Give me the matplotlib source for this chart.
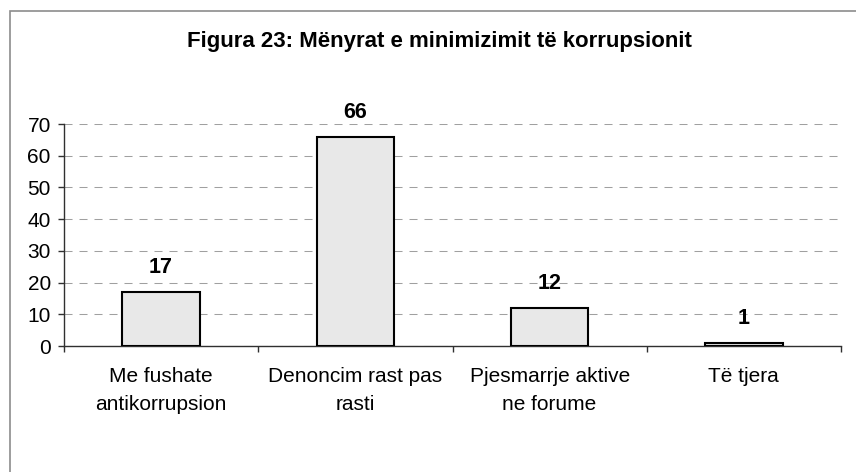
import numpy as np
import matplotlib.pyplot as plt
from matplotlib.patches import Rectangle

plt.rcParams['font.family'] = ['Liberation Sans', 'DejaVu Sans']

categories = ['Me fushate\nantikorrupsion', 'Denoncim rast pas\nrasti',
              'Pjesmarrje aktive\nne forume', 'Të tjera']
values = [17, 66, 12, 1]
yticks = [0, 10, 20, 30, 40, 50, 60, 70]
title = 'Figura 23: Mënyrat e minimizimit të korrupsionit'

fig = plt.figure(figsize=(8.56, 4.72), dpi=100, facecolor='w')
ax = fig.add_axes([64 / 856, 1 - 346 / 472, (841 - 64) / 856, (346 - 124) / 472])

# outer chart frame (clipped on right and bottom like the source)
fig.patches.append(Rectangle((9.5 / 856, -0.1), 1.2, 1 - 10.5 / 472 + 0.1,
                             transform=fig.transFigure, fill=False,
                             edgecolor='#8c8c8c', lw=1.2))

x = np.arange(len(values))
ax.bar(x, values, width=0.4, color='#e8e8e8', edgecolor='black', lw=1.5, zorder=3)
for xi, v in zip(x, values):
    ax.annotate(str(v), (xi, v), xytext=(0, 13.5), textcoords='offset points',
                ha='center', va='baseline', fontsize=15.5, fontweight='bold')

ax.set_xlim(-0.5, len(values) - 0.5)
ax.set_ylim(0, 70)
ax.set_yticks(yticks)
ax.set_yticklabels([str(t) for t in yticks], fontsize=15)
ax.yaxis.grid(True, color='#a0a0a0', ls=(0, (7.7, 6.7)), lw=0.75)
ax.set_axisbelow(True)

# category ticks at the boundaries, labels in the middle
ax.set_xticks(np.arange(len(values) + 1) - 0.5)
ax.set_xticklabels([])
ax.set_xticks(x, minor=True)
ax.set_xticklabels(categories, minor=True, fontsize=15, linespacing=1.6)
ax.tick_params(axis='x', which='minor', length=0, pad=15)
ax.tick_params(axis='x', which='major', length=4.5, width=1, color='#303030')
ax.tick_params(axis='y', length=4.5, width=1, color='#303030', pad=5)

for s in ['top', 'right']:
    ax.spines[s].set_visible(False)
for s in ['left', 'bottom']:
    ax.spines[s].set_color('#303030')
    ax.spines[s].set_linewidth(1)

fig.text(439 / 856, 1 - 41 / 472, title, ha='center', va='center',
         fontsize=16, fontweight='bold')

fig.savefig('out.png', dpi=100)
